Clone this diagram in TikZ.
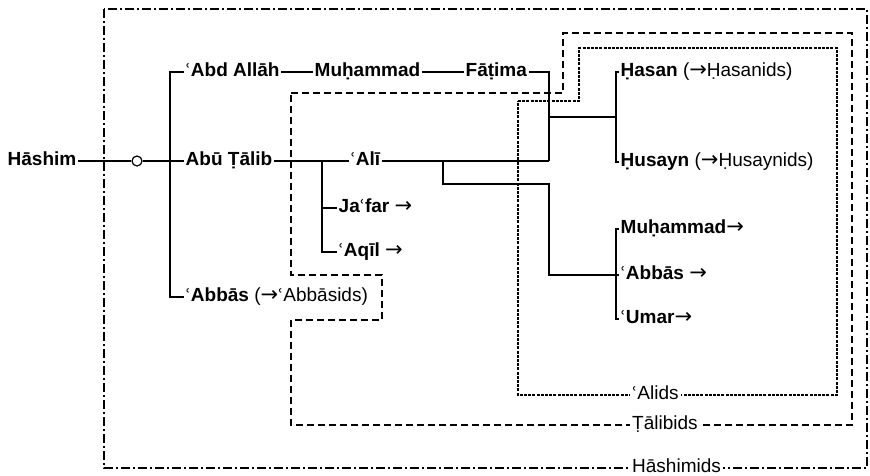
\documentclass[tikz,border=0pt]{standalone}
\usepackage{fontspec}
\setmainfont{Liberation Sans}
\newfontfamily\djv{DejaVu Sans}
\newcommand{\ayn}{{\djv\mdseries\fontsize{17}{17}\selectfont ʿ}}
\newcommand{\arr}{{\djv\mdseries\fontsize{21}{21}\selectfont →}}
\begin{document}
\begin{tikzpicture}[x=1pt,y=-1pt]
\tikzset{
 nm/.style={font=\fontsize{19}{22}\selectfont\bfseries, inner xsep=1.5pt, inner ysep=0pt, text height=13pt, text depth=5pt, anchor=west},
 lbl/.style={font=\fontsize{19}{22}\selectfont, fill=white, inner xsep=2pt, inner ysep=0pt, text height=13pt, text depth=5pt, anchor=west},
 conn/.style={line width=1.5pt},
 hbox/.style={line width=1.2pt, dash pattern=on 9pt off 3pt on 2pt off 3pt},
 tbox/.style={line width=1.4pt, dash pattern=on 7pt off 4pt},
 abox/.style={line width=1.4pt, dash pattern=on 3pt off 1.2pt},
 ring/.style={draw, circle, minimum size=10pt, inner sep=0pt, fill=white, line width=1.2pt},
}
\useasboundingbox (0,0) rectangle (870,475);
% group boxes
\draw[hbox] (104,9) rectangle (867,468);
\draw[tbox] (291,93) -- (563,93) -- (563,33) -- (852,33) -- (852,425) -- (291,425) -- (291,320) -- (382,320) -- (382,275) -- (291,275) -- cycle;
\draw[abox] (518,101) -- (579,101) -- (579,48) -- (837,48) -- (837,395) -- (518,395) -- cycle;
\node[lbl] (alids) at (630,395) {\ayn Alids};
\node[lbl] (talibids) at (630,425) {Ṭālibids};
\node[lbl] (hashimids) at (630,468) {Hāshimids};
% names
\node[nm] (hashim) at (6,161) {Hāshim};
\node[ring] (circ) at (137,161) {};
\node[nm] (abutalib) at (184,161) {Abū Ṭālib};
\node[nm] (abdallah) at (184,72) {\ayn Abd Allāh};
\node[nm] (abbas) at (184,297) {\ayn Abbās \mdseries(\arr\ayn Abbāsids)};
\node[nm] (muh1) at (313,72) {Muḥammad};
\node[nm] (fatima) at (464,72) {Fāṭima};
\node[nm] (ali) at (349,161) {\ayn Alī};
\node[nm] (jafar) at (337,208) {Ja\ayn far \arr};
\node[nm] (aqil) at (337,252) {\ayn Aqīl \arr};
\node[nm] (hasan) at (619,72) {Ḥasan \mdseries(\arr Ḥasanids)};
\node[nm] (husayn) at (619,162) {Ḥusayn \mdseries(\arr Ḥusaynids)};
\node[nm] (muh2) at (619,229) {Muḥammad\arr};
\node[nm] (abbas2) at (619,275) {\ayn Abbās \arr};
\node[nm] (umar) at (619,319) {\ayn Umar\arr};
% junctions
\coordinate (j1) at (170,161);
\coordinate (j8) at (322,161);
\coordinate (j5) at (443,161);
\coordinate (j2) at (549,161);
\coordinate (j3) at (549,117);
\coordinate (j4) at (616,117);
\coordinate (j6) at (549,184);
\coordinate (j7) at (549,275);
\coordinate (j9) at (616,275);
% connectors
\draw[conn] (hashim.east) -- (circ.west);
\draw[conn] (circ.east) -- (abutalib.west);
\draw[conn] (abdallah.west) -| (j1) |- (abbas.west);
\draw[conn] (abdallah.east) -- (muh1.west);
\draw[conn] (muh1.east) -- (fatima.west);
\draw[conn] (fatima.east) -| (j2);
\draw[conn] (abutalib.east) -- (ali.west);
\draw[conn] (jafar.west) -| (j8) |- (aqil.west);
\draw[conn] (ali.east) -- (j2);
\draw[conn] (j3) -- (j4);
\draw[conn] (hasan.west) -| (j4) |- (husayn.west);
\draw[conn] (j5) |- (j6) -- (j7) -- (abbas2.west);
\draw[conn] (muh2.west) -| (j9) |- (umar.west);
\end{tikzpicture}
\end{document}
